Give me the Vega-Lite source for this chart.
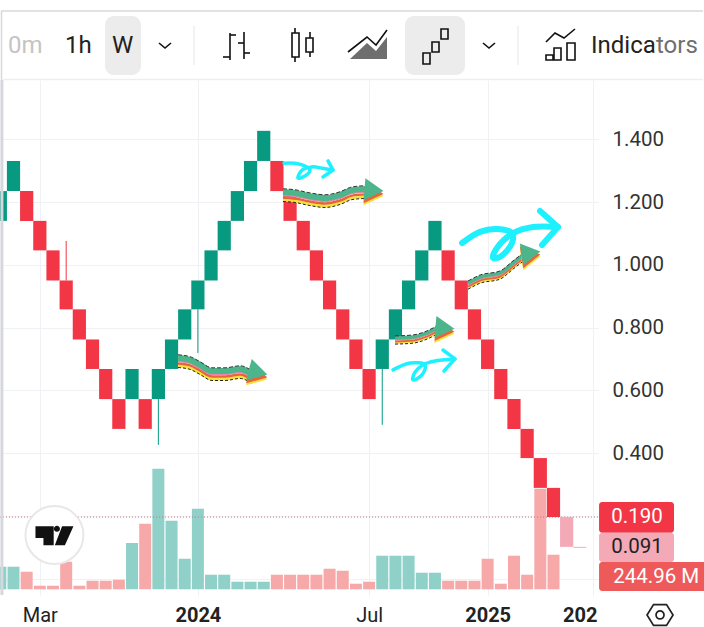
{
  "$schema": "https://vega.github.io/schema/vega-lite/v6.json",
  "padding": {"left": -1, "top": 0, "right": 0, "bottom": 0},
  "background": "white",
  "spacing": 0,
  "bounds": "flush",
  "config": {"view": {"stroke": null}},
  "datasets": {
    "bricks": [
      {"i":0,"open":1.140,"close":1.235,"dir":"up","vol":461},
      {"i":1,"open":1.235,"close":1.331,"dir":"up","vol":461},
      {"i":2,"open":1.235,"close":1.140,"dir":"down","vol":359},
      {"i":3,"open":1.140,"close":1.046,"dir":"down","vol":73},
      {"i":4,"open":1.046,"close":0.950,"dir":"down","vol":73},
      {"i":5,"open":0.950,"close":0.858,"dir":"down","vol":563,"wick":1.076},
      {"i":6,"open":0.858,"close":0.762,"dir":"down","vol":73},
      {"i":7,"open":0.762,"close":0.668,"dir":"down","vol":175},
      {"i":8,"open":0.668,"close":0.572,"dir":"down","vol":175},
      {"i":9,"open":0.572,"close":0.477,"dir":"down","vol":196},
      {"i":10,"open":0.572,"close":0.668,"dir":"up","vol":945},
      {"i":11,"open":0.572,"close":0.477,"dir":"down","vol":1338},
      {"i":12,"open":0.572,"close":0.668,"dir":"up","vol":2460,"wick":0.426},
      {"i":13,"open":0.668,"close":0.762,"dir":"up","vol":1399},
      {"i":14,"open":0.762,"close":0.858,"dir":"up","vol":624},
      {"i":15,"open":0.858,"close":0.950,"dir":"up","vol":1644,"wick":0.719},
      {"i":16,"open":0.950,"close":1.046,"dir":"up","vol":298},
      {"i":17,"open":1.046,"close":1.140,"dir":"up","vol":298},
      {"i":18,"open":1.140,"close":1.235,"dir":"up","vol":155},
      {"i":19,"open":1.235,"close":1.331,"dir":"up","vol":155},
      {"i":20,"open":1.331,"close":1.427,"dir":"up","vol":155},
      {"i":21,"open":1.331,"close":1.235,"dir":"down","vol":298},
      {"i":22,"open":1.235,"close":1.140,"dir":"down","vol":298},
      {"i":23,"open":1.140,"close":1.046,"dir":"down","vol":298},
      {"i":24,"open":1.046,"close":0.950,"dir":"down","vol":298},
      {"i":25,"open":0.950,"close":0.858,"dir":"down","vol":420},
      {"i":26,"open":0.858,"close":0.762,"dir":"down","vol":379},
      {"i":27,"open":0.762,"close":0.668,"dir":"down","vol":114},
      {"i":28,"open":0.668,"close":0.572,"dir":"down","vol":155},
      {"i":29,"open":0.668,"close":0.762,"dir":"up","vol":685,"wick":0.490},
      {"i":30,"open":0.762,"close":0.858,"dir":"up","vol":685},
      {"i":31,"open":0.858,"close":0.950,"dir":"up","vol":685},
      {"i":32,"open":0.950,"close":1.046,"dir":"up","vol":339},
      {"i":33,"open":1.046,"close":1.140,"dir":"up","vol":339},
      {"i":34,"open":1.046,"close":0.950,"dir":"down","vol":175},
      {"i":35,"open":0.950,"close":0.858,"dir":"down","vol":175},
      {"i":36,"open":0.858,"close":0.762,"dir":"down","vol":175},
      {"i":37,"open":0.762,"close":0.668,"dir":"down","vol":624},
      {"i":38,"open":0.668,"close":0.572,"dir":"down","vol":114},
      {"i":39,"open":0.572,"close":0.477,"dir":"down","vol":685},
      {"i":40,"open":0.477,"close":0.384,"dir":"down","vol":298},
      {"i":41,"open":0.384,"close":0.289,"dir":"down","vol":2052},
      {"i":42,"open":0.289,"close":0.196,"dir":"down","vol":706},
      {"i":43,"open":0.196,"close":0.101,"dir":"live"},
      {"i":44,"open":0.101,"close":0.098,"dir":"live"}
    ],
    "wavyLarge": [
      {"arrow":"A","n":0,"i":21.46,"price":1.232},{"arrow":"A","n":1,"i":22.37,"price":1.229},{"arrow":"A","n":2,"i":23.51,"price":1.219},{"arrow":"A","n":3,"i":24.65,"price":1.213},{"arrow":"A","n":4,"i":25.79,"price":1.2225},{"arrow":"A","n":5,"i":26.70,"price":1.238},{"arrow":"A","n":6,"i":27.77,"price":1.242},
      {"arrow":"B","n":0,"i":13.49,"price":0.703},{"arrow":"B","n":1,"i":14.40,"price":0.697},{"arrow":"B","n":2,"i":15.16,"price":0.681},{"arrow":"B","n":3,"i":16.07,"price":0.6615},{"arrow":"B","n":4,"i":17.06,"price":0.6615},{"arrow":"B","n":5,"i":18.20,"price":0.668},{"arrow":"B","n":6,"i":19.11,"price":0.652}
    ],
    "wavySmall": [
      {"arrow":"C","n":0,"i":35.51,"price":0.942},{"arrow":"C","n":1,"i":36.42,"price":0.961},{"arrow":"C","n":2,"i":37.94,"price":0.974},{"arrow":"C","n":3,"i":38.93,"price":1.006},{"arrow":"C","n":4,"i":39.69,"price":1.031},
      {"arrow":"D","n":0,"i":29.97,"price":0.767},{"arrow":"D","n":1,"i":31.33,"price":0.770},{"arrow":"D","n":2,"i":32.40,"price":0.783},{"arrow":"D","n":3,"i":33.16,"price":0.799}
    ],
    "heads": [
      {"arrow":"A","i":28.37,"price":1.238,"heading":5},
      {"arrow":"B","i":19.57,"price":0.658,"heading":15},
      {"arrow":"C","i":40.29,"price":1.038,"heading":-9},
      {"arrow":"D","i":33.76,"price":0.799,"heading":5}
    ],
    "scribbles": [
      {"arrow":"top","n":0,"i":21.54,"price":1.324},{"arrow":"top","n":1,"i":22.37,"price":1.324},{"arrow":"top","n":2,"i":23.13,"price":1.315},{"arrow":"top","n":3,"i":23.51,"price":1.302},{"arrow":"top","n":4,"i":23.13,"price":1.283},{"arrow":"top","n":5,"i":22.60,"price":1.2765},{"arrow":"top","n":6,"i":22.91,"price":1.302},{"arrow":"top","n":7,"i":23.67,"price":1.312},{"arrow":"top","n":8,"i":24.43,"price":1.308},{"arrow":"top","n":9,"i":25.26,"price":1.302},{"arrow":"top","n":10,"i":24.88,"price":1.331},{"arrow":"top","n":11,"i":25.26,"price":1.302},{"arrow":"top","n":12,"i":24.50,"price":1.28},
      {"arrow":"big","n":0,"i":35.06,"price":1.0695},{"arrow":"big","n":1,"i":36.42,"price":1.105},{"arrow":"big","n":2,"i":37.71,"price":1.114},{"arrow":"big","n":3,"i":38.85,"price":1.101},{"arrow":"big","n":4,"i":38.85,"price":1.0695},{"arrow":"big","n":5,"i":37.94,"price":1.025},{"arrow":"big","n":6,"i":37.41,"price":1.022},{"arrow":"big","n":7,"i":37.71,"price":1.054},{"arrow":"big","n":8,"i":38.93,"price":1.101},{"arrow":"big","n":9,"i":40.45,"price":1.1205},{"arrow":"big","n":10,"i":42.34,"price":1.1205},{"arrow":"big","n":11,"i":40.98,"price":1.1715},{"arrow":"big","n":12,"i":42.34,"price":1.1205},{"arrow":"big","n":13,"i":41.13,"price":1.063},
      {"arrow":"low","n":0,"i":29.82,"price":0.665},{"arrow":"low","n":1,"i":31.11,"price":0.687},{"arrow":"low","n":2,"i":32.25,"price":0.681},{"arrow":"low","n":3,"i":32.02,"price":0.649},{"arrow":"low","n":4,"i":31.33,"price":0.633},{"arrow":"low","n":5,"i":31.49,"price":0.658},{"arrow":"low","n":6,"i":32.40,"price":0.687},{"arrow":"low","n":7,"i":34.52,"price":0.700},{"arrow":"low","n":8,"i":33.61,"price":0.7285},{"arrow":"low","n":9,"i":34.52,"price":0.700},{"arrow":"low","n":10,"i":33.69,"price":0.6615}
    ],
    "tags": [
      {"label":"0.190","kind":"down","i0":45.46,"i1":51.15,"p0":0.244,"p1":0.146,"li":48.34,"lp":0.195},
      {"label":"0.091","kind":"live","i0":45.46,"i1":51.15,"p0":0.146,"p1":0.053,"li":48.34,"lp":0.1},
      {"label":"244.96 M","kind":"vol","i0":45.46,"i1":53.6,"p0":0.053,"p1":-0.04,"li":49.8,"lp":0.004}
    ],
    "toolbarText": [
      {"label":"0m","kind":"faded","x":8,"y":46},
      {"label":"1h","kind":"plain","x":65,"y":46},
      {"label":"W","kind":"plain","x":112,"y":46},
      {"label":"Indica","kind":"plain","x":591,"y":46},
      {"label":"tors","kind":"soft","x":656,"y":46}
    ],
    "toolbarBoxes": [
      {"x":105,"x2":141,"y":16,"y2":75},
      {"x":405,"x2":465,"y":16,"y2":75}
    ],
    "toolbarOutlines": [
      {"x":292,"x2":299,"y":33,"y2":57},
      {"x":306,"x2":313,"y":38,"y2":52},
      {"x":423,"x2":430,"y":53,"y2":64},
      {"x":432,"x2":439,"y":42,"y2":52},
      {"x":441,"x2":448,"y":29,"y2":39},
      {"x":546,"x2":553,"y":55,"y2":60},
      {"x":554,"x2":561,"y":48,"y2":60},
      {"x":567,"x2":575,"y":43,"y2":60}
    ],
    "toolbarLines": [
      {"g":"b1","n":0,"x":230,"y":33},{"g":"b1","n":1,"x":230,"y":60},
      {"g":"b2","n":0,"x":223,"y":57},{"g":"b2","n":1,"x":230,"y":57},
      {"g":"b3","n":0,"x":230,"y":35},{"g":"b3","n":1,"x":236,"y":35},
      {"g":"b4","n":0,"x":244,"y":32},{"g":"b4","n":1,"x":244,"y":59},
      {"g":"b5","n":0,"x":238,"y":43},{"g":"b5","n":1,"x":244,"y":43},
      {"g":"b6","n":0,"x":244,"y":53},{"g":"b6","n":1,"x":250,"y":53},
      {"g":"c1","n":0,"x":295,"y":28},{"g":"c1","n":1,"x":295,"y":33},
      {"g":"c2","n":0,"x":295,"y":57},{"g":"c2","n":1,"x":295,"y":62},
      {"g":"c3","n":0,"x":310,"y":32},{"g":"c3","n":1,"x":310,"y":38},
      {"g":"c4","n":0,"x":310,"y":52},{"g":"c4","n":1,"x":310,"y":57},
      {"g":"a1","n":0,"x":348,"y":52},{"g":"a1","n":1,"x":367,"y":37},{"g":"a1","n":2,"x":376,"y":45},{"g":"a1","n":3,"x":387,"y":30},
      {"g":"v1","n":0,"x":159,"y":43},{"g":"v1","n":1,"x":165,"y":48},{"g":"v1","n":2,"x":171,"y":43},
      {"g":"v2","n":0,"x":483,"y":43},{"g":"v2","n":1,"x":489,"y":48},{"g":"v2","n":2,"x":495,"y":43},
      {"g":"i1","n":0,"x":546,"y":42},{"g":"i1","n":1,"x":555,"y":33},{"g":"i1","n":2,"x":564,"y":38},{"g":"i1","n":3,"x":575,"y":29}
    ],
    "toolbarArea": [
      {"x":350,"y":59,"y2":59},{"x":367,"y":43,"y2":59},{"x":376,"y":51,"y2":59},{"x":387,"y":37,"y2":59}
    ],
    "toolbarRules": [
      {"x":1,"x2":703,"y":11,"y2":11,"part":"edge"},
      {"x":1.5,"x2":1.5,"y":11,"y2":80,"part":"edge"},
      {"x":3,"x2":703,"y":79.5,"y2":79.5,"part":"line"},
      {"x":194,"x2":194,"y":26,"y2":65,"part":"line"},
      {"x":518,"x2":518,"y":26,"y2":65,"part":"line"}
    ]
  },
  "vconcat": [
    {
      "width": 704,
      "height": 80,
      "encoding": {
        "x": {"field": "x", "type": "quantitative", "scale": {"domain": [0, 704]}, "axis": null},
        "y": {"field": "y", "type": "quantitative", "scale": {"domain": [80, 0]}, "axis": null}
      },
      "layer": [
        {
          "data": {"name": "toolbarBoxes"},
          "mark": {"type": "rect", "cornerRadius": 9, "fill": "#ececec"},
          "encoding": {"x2": {"field": "x2"}, "y2": {"field": "y2"}}
        },
        {
          "data": {"name": "toolbarRules"},
          "mark": {"type": "rule", "strokeWidth": 1.5},
          "encoding": {
            "x2": {"field": "x2"},
            "y2": {"field": "y2"},
            "color": {"field": "part", "type": "nominal", "legend": null, "scale": {"domain": ["edge", "line", "plain", "soft", "faded"], "range": ["#d6d8dd", "#eeeeee", "#222222", "#6f6f6f", "#c4c4c4"]}}
          }
        },
        {
          "data": {"name": "toolbarArea"},
          "mark": {"type": "area", "fill": "#6e6e6e"},
          "encoding": {"y2": {"field": "y2"}}
        },
        {
          "data": {"name": "toolbarOutlines"},
          "mark": {"type": "rect", "fillOpacity": 0, "stroke": "#111", "strokeWidth": 1.6},
          "encoding": {"x2": {"field": "x2"}, "y2": {"field": "y2"}}
        },
        {
          "data": {"name": "toolbarLines"},
          "mark": {"type": "line", "stroke": "#111", "strokeWidth": 1.6},
          "encoding": {"detail": {"field": "g"}, "order": {"field": "n"}}
        },
        {
          "data": {"name": "toolbarText"},
          "mark": {"type": "text", "font": "Roboto", "fontSize": 24, "align": "left", "baseline": "middle"},
          "encoding": {
            "text": {"field": "label"},
            "color": {"field": "kind", "type": "nominal", "legend": null}
          }
        }
      ]
    },
    {
      "width": 598,
      "height": 515,
      "encoding": {
        "x": {
          "field": "i",
          "type": "quantitative",
          "title": null,
          "scale": {"domain": [-0.025, 45.38], "padding": 0},
          "axis": {
            "values": [3, 15, 28, 37, 45],
            "labelExpr": "datum.value == 3 ? 'Mar' : datum.value == 15 ? '2024' : datum.value == 28 ? 'Jul' : datum.value == 37 ? '2025' : '202'",
            "labelFont": "Roboto",
            "labelFontSize": 20,
            "labelColor": "#222222",
            "labelFontWeight": {"condition": {"test": "datum.value == 15 || datum.value == 37 || datum.value == 45", "value": 700}, "value": 400},
            "labelAlign": {"condition": {"test": "datum.value == 45", "value": "right"}, "value": "center"},
            "labelOffset": {"condition": {"test": "datum.value == 45", "value": 4}, "value": 0},
            "labelPadding": 10,
            "labelBound": false,
            "labelFlush": false,
            "labelOverlap": false,
            "tickSize": 0,
            "domain": false,
            "grid": true,
            "gridColor": "#f0f1f4",
            "gridWidth": 1
          }
        }
      },
      "resolve": {"scale": {"y": "independent", "color": "independent"}},
      "layer": [
        {
          "data": {"name": "bricks"},
          "transform": [{"filter": "isValid(datum.vol)"}],
          "mark": {"type": "bar", "width": 12, "clip": true},
          "encoding": {
            "y": {"field": "vol", "type": "quantitative", "axis": null, "scale": {"domain": [-116, 10390]}},
            "color": {"field": "dir", "type": "nominal", "legend": null, "scale": {"domain": ["up", "down"], "range": ["#8fd0c8", "#f7a9a9"]}}
          }
        },
        {
          "encoding": {
            "y": {
              "field": "price",
              "type": "quantitative",
              "title": null,
              "scale": {"domain": [-0.0524, 1.589]},
              "axis": {
                "orient": "right",
                "values": [0, 0.2, 0.4, 0.6, 0.8, 1, 1.2, 1.4],
                "labelExpr": "datum.value < 0.3 ? '' : format(datum.value, '.3f')",
                "labelFont": "Roboto",
                "labelFontSize": 20.5,
                "labelColor": "#333333",
                "labelPadding": 14,
                "tickSize": 0,
                "domain": false,
                "grid": true,
                "gridColor": "#f0f1f4",
                "gridWidth": 1
              }
            }
          },
          "layer": [
            {
              "data": {"values": [{"price": 0.196}]},
              "mark": {"type": "rule", "color": "#d9707c", "strokeWidth": 1, "strokeDash": [1, 2]},
              "encoding": {"x": {"value": 0}, "x2": {"value": 598}}
            },
            {
              "data": {"name": "bricks"},
              "transform": [{"filter": "isValid(datum.wick)"}],
              "mark": {"type": "rule", "strokeWidth": 1},
              "encoding": {
                "y": {"field": "wick", "type": "quantitative"},
                "y2": {"field": "open"},
                "color": {"field": "dir", "type": "nominal", "legend": null, "scale": {"domain": ["up", "down", "live", "vol"], "range": ["#089981", "#f23645", "#f4a9b6", "#ee5a5a"]}}
              }
            },
            {
              "data": {"name": "bricks"},
              "mark": {"type": "bar", "width": 13.2, "clip": true},
              "encoding": {
                "y": {"field": "open", "type": "quantitative"},
                "y2": {"field": "close"},
                "color": {"field": "dir", "type": "nominal", "legend": null}
              }
            },
            {
              "data": {"name": "wavyLarge"},
              "mark": {"type": "line", "interpolate": "monotone", "color": "#f7e33a", "strokeWidth": 3, "yOffset": 8},
              "encoding": {"detail": {"field": "arrow"}, "order": {"field": "n"}}
            },
            {
              "data": {"name": "wavyLarge"},
              "mark": {"type": "line", "interpolate": "monotone", "color": "#222222", "strokeWidth": 1, "strokeDash": [3, 2], "yOffset": 9.5},
              "encoding": {"detail": {"field": "arrow"}, "order": {"field": "n"}}
            },
            {
              "data": {"name": "wavyLarge"},
              "mark": {"type": "line", "interpolate": "monotone", "color": "#e8643c", "strokeWidth": 2.5, "yOffset": 5.5},
              "encoding": {"detail": {"field": "arrow"}, "order": {"field": "n"}}
            },
            {
              "data": {"name": "wavyLarge"},
              "mark": {"type": "line", "interpolate": "monotone", "color": "#e887a8", "strokeWidth": 2, "yOffset": 3.2},
              "encoding": {"detail": {"field": "arrow"}, "order": {"field": "n"}}
            },
            {
              "data": {"name": "wavyLarge"},
              "mark": {"type": "line", "interpolate": "monotone", "color": "#4db58c", "strokeWidth": 6},
              "encoding": {"detail": {"field": "arrow"}, "order": {"field": "n"}}
            },
            {
              "data": {"name": "wavyLarge"},
              "mark": {"type": "line", "interpolate": "monotone", "color": "#333333", "strokeWidth": 1, "strokeDash": [4, 2], "yOffset": -3.2},
              "encoding": {"detail": {"field": "arrow"}, "order": {"field": "n"}}
            },
            {
              "data": {"name": "wavySmall"},
              "mark": {"type": "line", "interpolate": "monotone", "color": "#f7e33a", "strokeWidth": 2, "yOffset": 5},
              "encoding": {"detail": {"field": "arrow"}, "order": {"field": "n"}}
            },
            {
              "data": {"name": "wavySmall"},
              "mark": {"type": "line", "interpolate": "monotone", "color": "#222222", "strokeWidth": 1, "strokeDash": [3, 2], "yOffset": 6.2},
              "encoding": {"detail": {"field": "arrow"}, "order": {"field": "n"}}
            },
            {
              "data": {"name": "wavySmall"},
              "mark": {"type": "line", "interpolate": "monotone", "color": "#e8643c", "strokeWidth": 2, "yOffset": 3.5},
              "encoding": {"detail": {"field": "arrow"}, "order": {"field": "n"}}
            },
            {
              "data": {"name": "wavySmall"},
              "mark": {"type": "line", "interpolate": "monotone", "color": "#e887a8", "strokeWidth": 1.5, "yOffset": 2},
              "encoding": {"detail": {"field": "arrow"}, "order": {"field": "n"}}
            },
            {
              "data": {"name": "wavySmall"},
              "mark": {"type": "line", "interpolate": "monotone", "color": "#4db58c", "strokeWidth": 3.5},
              "encoding": {"detail": {"field": "arrow"}, "order": {"field": "n"}}
            },
            {
              "data": {"name": "wavySmall"},
              "mark": {"type": "line", "interpolate": "monotone", "color": "#333333", "strokeWidth": 1, "strokeDash": [4, 2], "yOffset": -2},
              "encoding": {"detail": {"field": "arrow"}, "order": {"field": "n"}}
            },
            {
              "data": {"name": "heads"},
              "mark": {"type": "point", "shape": "triangle-right", "filled": true, "opacity": 1, "color": "#f7e33a", "yOffset": 5},
              "encoding": {
                "angle": {"field": "heading", "type": "quantitative", "scale": null},
                "size": {"field": "arrow", "type": "nominal", "legend": null, "scale": {"domain": ["A", "B", "C", "D"], "range": [484, 484, 400, 324]}}
              }
            },
            {
              "data": {"name": "heads"},
              "mark": {"type": "point", "shape": "triangle-right", "filled": true, "opacity": 1, "color": "#e8643c", "yOffset": 3},
              "encoding": {
                "angle": {"field": "heading", "type": "quantitative", "scale": null},
                "size": {"field": "arrow", "type": "nominal", "legend": null}
              }
            },
            {
              "data": {"name": "heads"},
              "mark": {"type": "point", "shape": "triangle-right", "filled": true, "opacity": 1, "color": "#4db58c"},
              "encoding": {
                "angle": {"field": "heading", "type": "quantitative", "scale": null},
                "size": {"field": "arrow", "type": "nominal", "legend": null}
              }
            },
            {
              "data": {"name": "scribbles"},
              "transform": [{"filter": "datum.arrow == 'big' && datum.n <= 10"}],
              "mark": {"type": "line", "interpolate": "catmull-rom", "color": "#1ff0ff", "strokeWidth": 6, "strokeCap": "round", "strokeJoin": "round"},
              "encoding": {"order": {"field": "n"}}
            },
            {
              "data": {"name": "scribbles"},
              "transform": [{"filter": "datum.arrow == 'big' && datum.n >= 11"}],
              "mark": {"type": "line", "color": "#1ff0ff", "strokeWidth": 6, "strokeCap": "round", "strokeJoin": "round"},
              "encoding": {"order": {"field": "n"}}
            },
            {
              "data": {"name": "scribbles"},
              "transform": [{"filter": "(datum.arrow == 'top' && datum.n <= 9) || (datum.arrow == 'low' && datum.n <= 7)"}],
              "mark": {"type": "line", "interpolate": "catmull-rom", "color": "#1ff0ff", "strokeWidth": 3.5, "strokeCap": "round", "strokeJoin": "round"},
              "encoding": {"detail": {"field": "arrow"}, "order": {"field": "n"}}
            },
            {
              "data": {"name": "scribbles"},
              "transform": [{"filter": "(datum.arrow == 'top' && datum.n >= 10) || (datum.arrow == 'low' && datum.n >= 8)"}],
              "mark": {"type": "line", "color": "#1ff0ff", "strokeWidth": 3.5, "strokeCap": "round", "strokeJoin": "round"},
              "encoding": {"detail": {"field": "arrow"}, "order": {"field": "n"}}
            },
            {
              "data": {"values": [{"i": 4.11, "price": 0.139}]},
              "mark": {"type": "point", "shape": "circle", "filled": true, "fill": "white", "opacity": 1, "stroke": "#e8e8e8", "strokeWidth": 2, "size": 3364}
            },
            {
              "data": {"values": [{"i": 4.11, "price": 0.137}]},
              "mark": {"type": "point", "shape": "M-1,-.49L-.04,-.49L-.04,.51L-.58,.51L-.58,.13L-1,.13Z M.4,-.49L1,-.49L.55,.51L.02,.51Z M.29,-.36A.16,.16 0 1 1 -.03,-.36A.16,.16 0 1 1 .29,-.36Z", "filled": true, "color": "#111111", "opacity": 1, "size": 1444}
            },
            {
              "data": {"values": [{"i": 50.09, "price": -0.116}]},
              "mark": {"type": "point", "shape": "M-1,0L-.5,-.8L.5,-.8L1,0L.5,.8L-.5,.8Z", "filled": false, "color": "#222222", "opacity": 1, "strokeWidth": 1.7, "size": 676}
            },
            {
              "data": {"values": [{"i": 50.09, "price": -0.116}]},
              "mark": {"type": "point", "shape": "circle", "filled": false, "color": "#222222", "opacity": 1, "strokeWidth": 1.7, "size": 64}
            },
            {
              "data": {"name": "tags"},
              "mark": {"type": "rect", "cornerRadius": 3},
              "encoding": {
                "x": {"field": "i0", "type": "quantitative"},
                "x2": {"field": "i1"},
                "y": {"field": "p0", "type": "quantitative"},
                "y2": {"field": "p1"},
                "color": {"field": "kind", "type": "nominal", "legend": null}
              }
            },
            {
              "data": {"name": "tags"},
              "mark": {"type": "text", "font": "Roboto", "fontSize": 20.5, "align": "center", "baseline": "middle"},
              "encoding": {
                "x": {"field": "li", "type": "quantitative"},
                "y": {"field": "lp", "type": "quantitative"},
                "text": {"field": "label"},
                "color": {"condition": {"test": "datum.kind == 'live'", "value": "#222222"}, "value": "#ffffff"}
              }
            },
            {
              "data": {"values": [{"i": 0.12, "price": -0.0524, "top": 1.589}]},
              "mark": {"type": "rule", "color": "#d6d8dd", "strokeWidth": 3},
              "encoding": {"y2": {"field": "top"}}
            }
          ]
        }
      ]
    }
  ]
}
